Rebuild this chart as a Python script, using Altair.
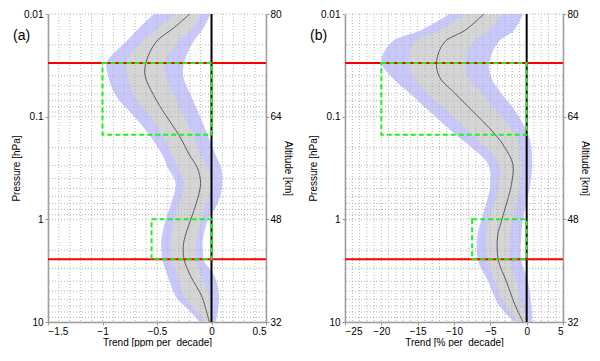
import altair as alt
import pandas as pd

# ---------------- data ----------------
# Panel (a): ppm per decade
pressure_a = [0.01, 0.0135, 0.0188, 0.0294, 0.0397, 0.062, 0.097, 0.15, 0.238, 0.315,
              0.447, 0.70, 1.0, 1.58, 2.0, 2.5, 3.6, 5.6, 8.0, 10]
blue_lo_a = [-0.53, -0.66, -0.79, -0.96, -0.95, -0.88, -0.72, -0.57, -0.45, -0.40,
             -0.33, -0.37, -0.42, -0.46, -0.46, -0.45, -0.40, -0.33, -0.19, -0.11]
gray_lo_a = [-0.33, -0.48, -0.64, -0.78, -0.77, -0.71, -0.57, -0.45, -0.36, -0.31,
             -0.25, -0.30, -0.34, -0.37, -0.37, -0.36, -0.31, -0.25, -0.13, -0.06]
mean_a = [-0.20, -0.34, -0.51, -0.60, -0.61, -0.53, -0.42, -0.30, -0.20, -0.13,
          -0.10, -0.14, -0.19, -0.25, -0.26, -0.25, -0.19, -0.09, -0.045, -0.02]
gray_hi_a = [-0.09, -0.17, -0.31, -0.43, -0.42, -0.34, -0.26, -0.17, -0.10, -0.035,
             -0.005, -0.05, -0.09, -0.14, -0.14, -0.14, -0.09, -0.02, -0.005, 0.01]
blue_hi_a = [-0.01, -0.07, -0.17, -0.25, -0.26, -0.19, -0.11, -0.035, 0.04, 0.087,
             0.10, 0.057, -0.03, -0.08, -0.08, -0.07, 0.03, 0.07, 0.057, 0.04]

# Panel (b): % per decade
pressure_b = [0.01, 0.0143, 0.0188, 0.029, 0.041, 0.059, 0.086, 0.147, 0.2, 0.29,
              0.457, 1.0, 1.45, 2.5, 4.0, 6.7, 10]
blue_lo_b = [-10.6, -14.5, -18.6, -20.0, -18.6, -16.1, -13.6, -9.9, -7.6, -5.3,
             -5.0, -6.2, -6.8, -6.7, -5.3, -3.9, -1.7]
gray_lo_b = [-8.3, -11.8, -15.4, -16.2, -15.6, -13.6, -11.1, -7.6, -5.6, -3.8,
             -3.8, -5.1, -5.55, -5.3, -4.4, -3.0, -1.2]
mean_b = [-5.9, -8.4, -11.3, -12.4, -12.0, -9.9, -7.6, -4.4, -3.0, -1.9,
          -2.1, -3.4, -4.0, -3.9, -2.8, -1.65, -0.5]
gray_hi_b = [-3.3, -5.1, -7.4, -8.4, -8.1, -6.2, -4.2, -1.65, -0.97, -0.74,
             -0.85, -1.9, -2.35, -2.35, -1.43, -0.74, 0.0]
blue_hi_b = [-0.5, -1.7, -3.9, -5.1, -4.9, -3.5, -1.65, 0.18, 0.64, 0.75,
             0.5, -0.5, -0.74, -0.74, 0.18, 0.64, 0.8]

# reference levels
red_levels = [0.03, 2.45]
box_a_x1 = [-1.0, -0.55]
box_b_x1 = [-20.0, -7.5]
box_x2 = [0.0, 0.0]
box_p1 = [0.03, 1.0]
box_p2 = [0.15, 2.45]

# axes
p_major = [0.01, 0.1, 1, 10]
alt_km = [80, 64, 48, 32]
p_grid = [m * 10 ** e for e in (-2, -1, 0) for m in range(1, 10)] + [10]
xmajor_a = [-1.5, -1.0, -0.5, 0.0, 0.5]
xgrid_a = [round(-1.5 + 0.1 * i, 2) for i in range(21)]
xmajor_b = [-25, -20, -15, -10, -5, 0, 5]
xgrid_b = list(range(-25, 6))

BLUE = "#c8c8fb"
GRAY = "#d5d5d5"
FONT = "Liberation Sans"

alt_expr = " : ".join(
    f"datum.value == {p} ? '{a}'" for p, a in zip(p_major[:-1], alt_km[:-1])
) + f" : '{alt_km[-1]}'"


def panel(pressure, blo, glo, mean, ghi, bhi, xdom, xmajor, xgrid, xfmt, xtitle,
          letter, box_x1):
    df = pd.DataFrame(dict(p=pressure, blo=blo, glo=glo, m=mean, ghi=ghi, bhi=bhi,
                           i=list(range(len(pressure)))))
    ys = alt.Scale(type="log", domain=[0.01, 10], reverse=True, nice=False)
    xs = alt.Scale(domain=xdom, nice=False, zero=False)

    blue = alt.Chart(df).mark_area(color=BLUE, interpolate="catmull-rom",
                                   orient="horizontal").encode(
        y=alt.Y("p:Q", scale=ys,
                axis=alt.Axis(orient="left", values=p_major, format="~g",
                              title="Pressure [hPa]", grid=False, tickSize=3,
                              labelPadding=2, titlePadding=2)),
        x=alt.X("blo:Q", scale=xs,
                axis=alt.Axis(values=xmajor, format=xfmt, title=xtitle, grid=False,
                              tickSize=3, labelPadding=1, titlePadding=1)),
        x2="bhi:Q",
    )
    gray = alt.Chart(df).mark_area(color=GRAY, interpolate="catmull-rom",
                                   orient="horizontal").encode(
        y=alt.Y("p:Q", scale=ys, axis=None),
        x=alt.X("glo:Q", scale=xs, axis=None),
        x2="ghi:Q",
    )
    vgrid = alt.Chart(pd.DataFrame({"x": xgrid})).mark_rule(
        color="#b4b4b4", strokeDash=[1, 2], strokeWidth=1).encode(
        x=alt.X("x:Q", scale=xs, axis=None))
    hgrid = alt.Chart(pd.DataFrame({"p": p_grid})).mark_rule(
        color="#b4b4b4", strokeDash=[1, 2], strokeWidth=1).encode(
        y=alt.Y("p:Q", scale=ys, axis=None))
    line = alt.Chart(df).mark_line(color="#5a5a66", strokeWidth=1,
                                   interpolate="catmull-rom").encode(
        y=alt.Y("p:Q", scale=ys,
                axis=alt.Axis(orient="right", values=p_major, labelExpr=alt_expr,
                              title="Altitude [km]", grid=False, tickSize=3,
                              labelPadding=1, titlePadding=1)),
        x=alt.X("m:Q", scale=xs, axis=None),
        order=alt.Order("i:Q"),
    )
    zero = alt.Chart(pd.DataFrame({"x": [0]})).mark_rule(
        color="black", strokeWidth=2).encode(x=alt.X("x:Q", scale=xs, axis=None))
    red = alt.Chart(pd.DataFrame({"p": red_levels})).mark_rule(
        color="#ff0000", strokeWidth=2).encode(y=alt.Y("p:Q", scale=ys, axis=None))
    boxes = alt.Chart(pd.DataFrame(dict(x1=box_x1, x2=box_x2, p1=box_p1, p2=box_p2))).mark_rect(
        fillOpacity=0, stroke="#22ee22", strokeWidth=2, strokeDash=[5, 3]).encode(
        x=alt.X("x1:Q", scale=xs, axis=None), x2="x2:Q",
        y=alt.Y("p1:Q", scale=ys, axis=None), y2="p2:Q")
    label = alt.Chart(pd.DataFrame({"t": [letter]})).mark_text(
        fontSize=14, align="left", baseline="middle", font=FONT).encode(
        text="t:N", x=alt.value(-35), y=alt.value(22))

    return alt.layer(blue, gray, vgrid, hgrid, line, zero, red, boxes, label).properties(
        width=218, height=308).resolve_scale(y="shared", x="shared").resolve_axis(
        y="independent", x="independent")


pa = panel(pressure_a, blue_lo_a, gray_lo_a, mean_a, gray_hi_a, blue_hi_a,
           [-1.5, 0.5], xmajor_a, xgrid_a, ".1~f", "Trend [ppm per\u00a0 decade]", "(a)",
           box_a_x1)
pb = panel(pressure_b, blue_lo_b, gray_lo_b, mean_b, gray_hi_b, blue_hi_b,
           [-25, 5], xmajor_b, xgrid_b, "d", "Trend [% per\u00a0 decade]", "(b)",
           box_b_x1)

chart = alt.hconcat(pa, pb, spacing=15).properties(
    padding={"left": 3, "top": 1, "right": 0, "bottom": 0}
).configure_view(stroke=None).configure_axis(
    labelFont=FONT, titleFont=FONT, labelFontSize=10, titleFontSize=10,
    titleFontWeight="normal", labelColor="black", titleColor="black",
    domainColor="#9a9a9a", domainWidth=1.5, tickColor="#9a9a9a",
)

chart.save("out.html", embed_options={"renderer": "svg", "actions": False})
